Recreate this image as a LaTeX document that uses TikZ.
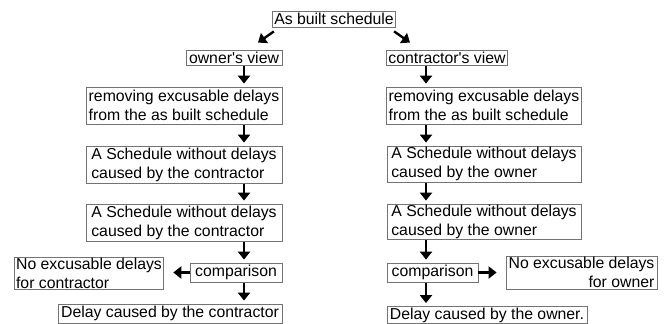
\documentclass[tikz,border=0pt]{standalone}
\usepackage{fontspec}
\setmainfont{Liberation Sans}
\usetikzlibrary{arrows.meta}

\begin{document}
\begin{tikzpicture}[
    x=1pt, y=-1pt,
    box/.style  = {rectangle, draw=black!55, line width=0.8pt,
                   inner xsep=2pt, inner ysep=0pt, align=left,
                   font=\fontsize{15.8}{19}\selectfont, minimum width=#1},
    rbox/.style = {box=#1, align=right},
    arr/.style  = {-{Triangle[length=8pt,width=12pt]}, line width=2.4pt,
                   shorten >=3pt}
]
\useasboundingbox (0,0) rectangle (667,324);

%% ---- TOP ----
\node[box=122, minimum height=16] (built) at (334,19) {As built schedule};

%% ---- LEFT COLUMN: owner's view ----
\node[box=96,  minimum height=15] (ov)    at (234,57.5)  {owner\textquotesingle s view};
\node[box=196, minimum height=37] (lrem)  at (184,105.5) {removing excusable delays\\from the as built schedule};
\node[box=196, minimum height=37] (lsa)   at (184,164.5) {A Schedule without delays\\caused by the contractor};
\node[box=196, minimum height=37] (lsb)   at (184,222.5) {A Schedule without delays\\caused by the contractor};
\node[box=92,  minimum height=19] (lcmp)  at (236,272.5) {comparison};
\node[box=146, minimum height=32] (lno)   at (89,273)    {No excusable delays\\for contractor};
\node[box=224, minimum height=19] (ldel)  at (170,313.5) {Delay caused by the contractor};

%% ---- RIGHT COLUMN: contractor's view ----
\node[box=120, minimum height=15] (cv)    at (447,57.5)  {contractor\textquotesingle s view};
\node[box=194, minimum height=37] (rrem)  at (484,105.5) {removing excusable delays\\from the as built schedule};
\node[box=194, minimum height=36] (rsa)   at (484,164)   {A Schedule without delays\\caused by the owner};
\node[box=194, minimum height=35] (rsb)   at (484,221.5) {A Schedule without delays\\caused by the owner};
\node[box=91,  minimum height=19] (rcmp)  at (432.5,272.5) {comparison};
\node[rbox=151, minimum height=33] (rno)  at (581.5,272.5) {No excusable delays\\for owner};
\node[box=200, minimum height=17] (rdel)  at (487,315)   {Delay caused by the owner.};

%% =============================================
%% ARROWS
%% =============================================
\coordinate (lx) at (244,0);
\coordinate (rx) at (426,0);

%% split from the top
\draw[arr, shorten >=0pt] ([shift={(2,4)}]built.south west)  -- ([shift={(24,-7)}]ov.north);
\draw[arr, shorten >=0pt] ([shift={(-2,4)}]built.south east) -- ([shift={(-37,-7)}]cv.north);

%% left pipeline
\foreach \a/\b in {ov/lrem, lrem/lsa, lsa/lsb, lsb/lcmp, lcmp/ldel}
    \draw[arr] ([yshift=-1pt]\a.south -| lx) -- (\b.north -| lx);
\draw[arr, shorten >=9pt] (lcmp.west) -- (lcmp.west -| lno.east);

%% right pipeline
\foreach \a/\b in {cv/rrem, rrem/rsa, rsa/rsb, rsb/rcmp, rcmp/rdel}
    \draw[arr] ([yshift=-1pt]\a.south -| rx) -- (\b.north -| rx);
\draw[arr, shorten >=9pt] (rcmp.east) -- (rcmp.east -| rno.west);

\end{tikzpicture}
\end{document}
